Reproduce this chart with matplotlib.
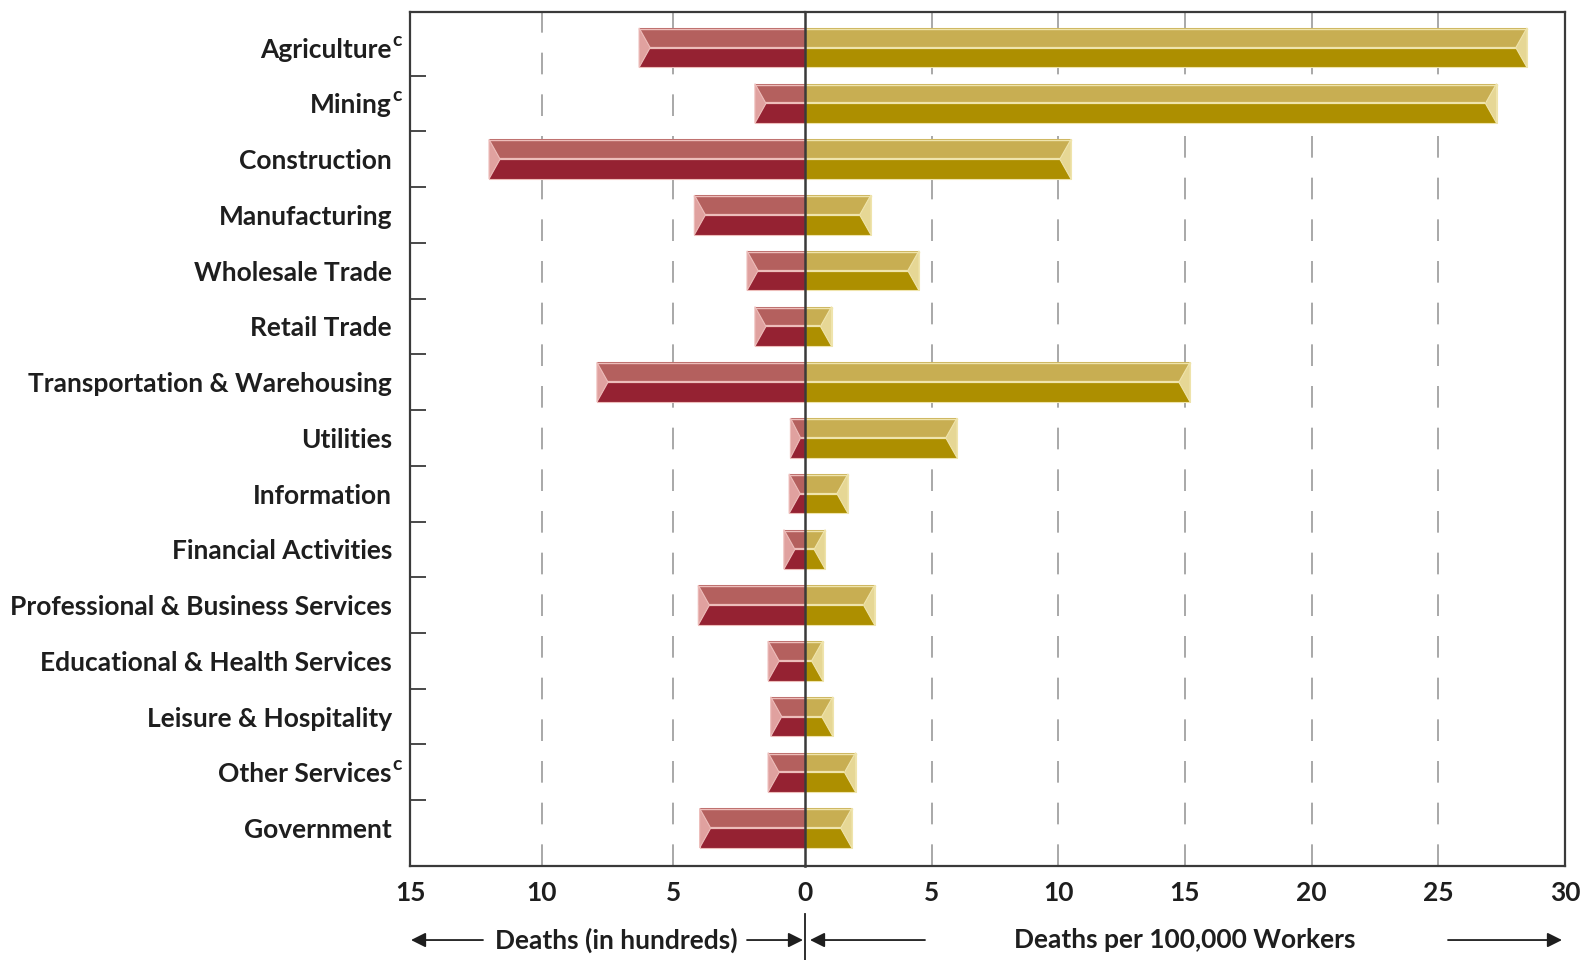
import matplotlib
matplotlib.use('Agg')
import matplotlib.pyplot as plt
import matplotlib.transforms as mtransforms
from matplotlib.patches import Polygon
import numpy as np

plt.rcParams['figure.dpi'] = 100
plt.rcParams['savefig.dpi'] = 100
plt.rcParams['font.family'] = ['Lato', 'DejaVu Sans']
plt.rcParams['font.weight'] = 'bold'
plt.rcParams['font.size'] = 19

# industries, top to bottom
industries = ['Agriculture', 'Mining', 'Construction', 'Manufacturing',
              'Wholesale Trade', 'Retail Trade', 'Transportation & Warehousing',
              'Utilities', 'Information', 'Financial Activities',
              'Professional & Business Services', 'Educational & Health Services',
              'Leisure & Hospitality', 'Other Services', 'Government']
footnote_c = ['Agriculture', 'Mining', 'Other Services']

# deaths, in hundreds
deaths = [6.3, 1.9, 12.0, 4.2, 2.2, 1.9, 7.9, 0.55, 0.6, 0.8, 4.05, 1.4, 1.3, 1.4, 4.0]
# deaths per 100,000 workers
rate = [28.5, 27.3, 10.5, 2.6, 4.5, 1.05, 15.2, 6.0, 1.7, 0.8, 2.75, 0.7, 1.1, 2.0, 1.85]

left_ticks = [15, 10, 5]
right_ticks = [0, 5, 10, 15, 20, 25, 30]

RED = dict(light='#B4605E', dark='#952232', cap='#E0A19F', edge='#EDBDBA')
GOLD = dict(light='#C8AE52', dark='#AD8F00', cap='#E6D795', edge='#EFE4AC')
FRAME = '#3a3a3a'
TEXT = '#1e1e1e'
BAR_H = 0.71


def bevel_bar(ax, y, v, col, d):
    d = min(d, 0.7 * v)
    h = BAR_H
    # dark lower face, lighter upper face
    ax.barh(y, v, height=h, color=col['dark'], edgecolor=col['edge'], linewidth=0.8, zorder=2)
    ax.barh(y - h / 4, v, height=h / 2, color=col['light'], linewidth=0, zorder=2)
    ax.plot([0, v - d], [y, y], color=col['edge'], lw=1.6, zorder=3, solid_capstyle='butt')
    ax.plot([0, v], [y - h / 2 + 0.02, y - h / 2 + 0.02], color=col['edge'], lw=1.0, zorder=3)
    # end cap
    cap = Polygon([(v, y - h / 2), (v, y + h / 2), (v - d, y)], closed=True,
                  facecolor=col['cap'], edgecolor=col['edge'], linewidth=0.8, zorder=3)
    ax.add_patch(cap)


fig = plt.figure(figsize=(15.93, 9.6))
ax_l = fig.add_axes([0.2574, 0.0979, 0.5053 - 0.2574, 0.9875 - 0.0979])
ax_r = fig.add_axes([0.5053, 0.0979, 0.9824 - 0.5053, 0.9875 - 0.0979])

y = np.arange(len(industries))
for i in y:
    bevel_bar(ax_l, i, deaths[i], RED, 0.42)
    bevel_bar(ax_r, i, rate[i], GOLD, 0.44)

grid_style = dict(color='#9a9a9a', linewidth=1.2, linestyle=(0, (13, 12)))

ax_l.set_xlim(15, 0)
ax_r.set_xlim(0, 30)
for ax in (ax_l, ax_r):
    ax.set_ylim(14.68, -0.64)
    ax.set_axisbelow(True)
    ax.xaxis.grid(True, **grid_style)
    ax.tick_params(axis='x', length=0, pad=11, labelsize=19, labelcolor=TEXT)
    for s in ax.spines.values():
        s.set_color(FRAME)
        s.set_linewidth(1.6)

ax_l.set_xticks(left_ticks)
ax_l.set_xticklabels([str(t) for t in left_ticks])
ax_r.set_xticks(right_ticks)
ax_r.set_xticklabels([str(t) for t in right_ticks])

ax_l.spines['right'].set_visible(False)
ax_r.spines['left'].set_linewidth(1.8)
ax_r.spines['left'].set_zorder(5)
ax_r.set_yticks([])

ax_l.set_yticks(y)
ax_l.set_yticklabels(industries, color=TEXT)
ax_l.tick_params(axis='y', which='major', length=0, pad=13)
ax_l.set_yticks(y[:-1] + 0.5, minor=True)
ax_l.tick_params(axis='y', which='minor', direction='in', length=11.5, width=1.3, color=FRAME)

# superscript footnote marks after some labels
trans = mtransforms.blended_transform_factory(ax_l.transAxes, ax_l.transData)
for name in footnote_c:
    i = industries.index(name)
    ax_l.annotate('c', xy=(0, i), xycoords=trans, xytext=(-12.5, 5.5),
                  textcoords='offset points', ha='left', va='center',
                  fontsize=14, color=TEXT, annotation_clip=False)

# axis captions with arrows below the plot
yc = 0.0208
arrow = dict(arrowstyle='-|>', color=TEXT, lw=1.3, mutation_scale=22,
             shrinkA=0, shrinkB=0)
fig.text(616 / 1593, yc, 'Deaths (in hundreds)', ha='center', va='center',
         fontsize=19, color=TEXT)
fig.text(1185 / 1593, yc, 'Deaths per 100,000 Workers', ha='center', va='center',
         fontsize=19, color=TEXT)
for x0, x1 in [(483, 411), (747, 803), (925, 810), (1448, 1562)]:
    fig.add_artist(matplotlib.patches.FancyArrowPatch(
        (x0 / 1593, yc), (x1 / 1593, yc), transform=fig.transFigure, **arrow))
fig.add_artist(plt.Line2D([805 / 1593, 805 / 1593], [0, 46 / 960],
                          transform=fig.transFigure, color=TEXT, lw=1.3))

fig.savefig('out.png')
